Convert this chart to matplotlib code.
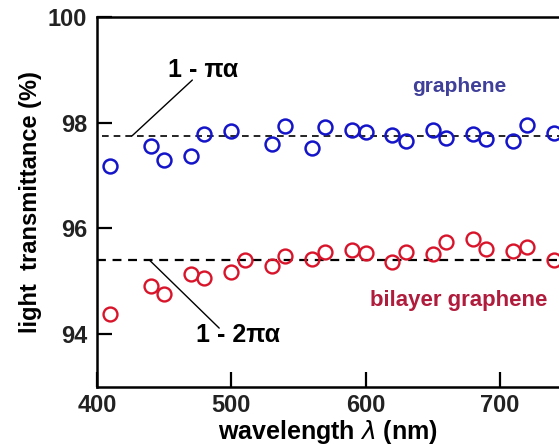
""" Light transmittance of graphene and bilayer graphene """

import matplotlib
matplotlib.use('Agg')
import matplotlib.pyplot as plt

plt.rcParams['font.family'] = ['Liberation Sans', 'DejaVu Sans']
plt.rcParams['mathtext.fontset'] = 'dejavusans'

# graphene (monolayer)
mono_wl = [410, 440, 450, 470, 480, 500, 530, 540, 560, 570, 590,
           600, 620, 630, 650, 660, 680, 690, 710, 720, 740]
mono_t = [97.18, 97.56, 97.29, 97.37, 97.79, 97.85, 97.60, 97.93, 97.53, 97.92, 97.87,
          97.82, 97.77, 97.65, 97.87, 97.71, 97.78, 97.69, 97.65, 97.96, 97.81]

# bilayer graphene
bi_wl = [410, 440, 450, 470, 480, 500, 510, 530, 540, 560, 570,
         590, 600, 620, 630, 650, 660, 680, 690, 710, 720, 740]
bi_t = [94.37, 94.90, 94.75, 95.13, 95.06, 95.17, 95.40, 95.29, 95.48, 95.42, 95.56,
        95.59, 95.54, 95.36, 95.55, 95.52, 95.74, 95.80, 95.61, 95.57, 95.64, 95.40]

# theory: 1 - pi*alpha and 1 - 2*pi*alpha
mono_theory = 97.75
bi_theory = 95.4

x_ticks = [400, 500, 600, 700]
y_ticks = [94, 96, 98, 100]


def main():
    fig = plt.figure(figsize=(5.59, 4.45), dpi=100)
    ax = fig.add_axes([0.1735, 0.131, 0.8265, 0.8303])

    ax.axhline(mono_theory, xmin=0.01, color='black', linestyle=(0, (4, 3)),
               linewidth=1.2, zorder=1)
    ax.axhline(bi_theory, color='black', linestyle=(0, (4, 3)), linewidth=1.6, zorder=1)

    ax.plot(mono_wl, mono_t, 'o', mfc='none', mec='#1414c8', ms=10, mew=1.8, zorder=3)
    ax.plot(bi_wl, bi_t, 'o', mfc='none', mec='#d8142a', ms=10, mew=1.7, zorder=3)

    ax.set_xlim(400, 744)
    ax.set_ylim(93, 100)
    ax.set_xticks(x_ticks)
    ax.set_yticks(y_ticks)
    ax.tick_params(direction='in', length=11, width=1.6, labelsize=17)
    ax.tick_params(axis='x', pad=5)
    ax.tick_params(axis='y', pad=7)
    for lab in ax.get_xticklabels() + ax.get_yticklabels():
        lab.set_fontweight('bold')
        lab.set_color('#222222')
    ax.spines['right'].set_visible(False)
    for s in ['left', 'bottom', 'top']:
        ax.spines[s].set_linewidth(1.8)

    ax.set_xlabel(r'wavelength $\lambda$ (nm)', fontsize=18, fontweight='bold', labelpad=1)
    ax.set_ylabel('light  transmittance (%)', fontsize=17, fontweight='bold', labelpad=4)

    # leader lines to the dashed theory lines
    ax.annotate('', xy=(426, mono_theory), xytext=(471, 98.81),
                arrowprops=dict(arrowstyle='-', color='black', lw=1,
                                shrinkA=0, shrinkB=0))
    ax.annotate('', xy=(439, bi_theory), xytext=(491, 94.11),
                arrowprops=dict(arrowstyle='-', color='black', lw=1,
                                shrinkA=0, shrinkB=0))
    ax.text(479, 99.0, '1 - πα', fontsize=18, fontweight='bold', ha='center', va='center')
    ax.text(505, 93.98, '1 - 2πα', fontsize=18, fontweight='bold', ha='center', va='center')

    ax.text(670, 98.68, 'graphene', fontsize=15, fontweight='bold', color='#40409a',
            ha='center', va='center')
    ax.text(669, 94.64, 'bilayer graphene', fontsize=16, fontweight='bold', color='#b01c3c',
            ha='center', va='center')

    fig.savefig('out.png', dpi=100)


if __name__ == '__main__':
    main()
